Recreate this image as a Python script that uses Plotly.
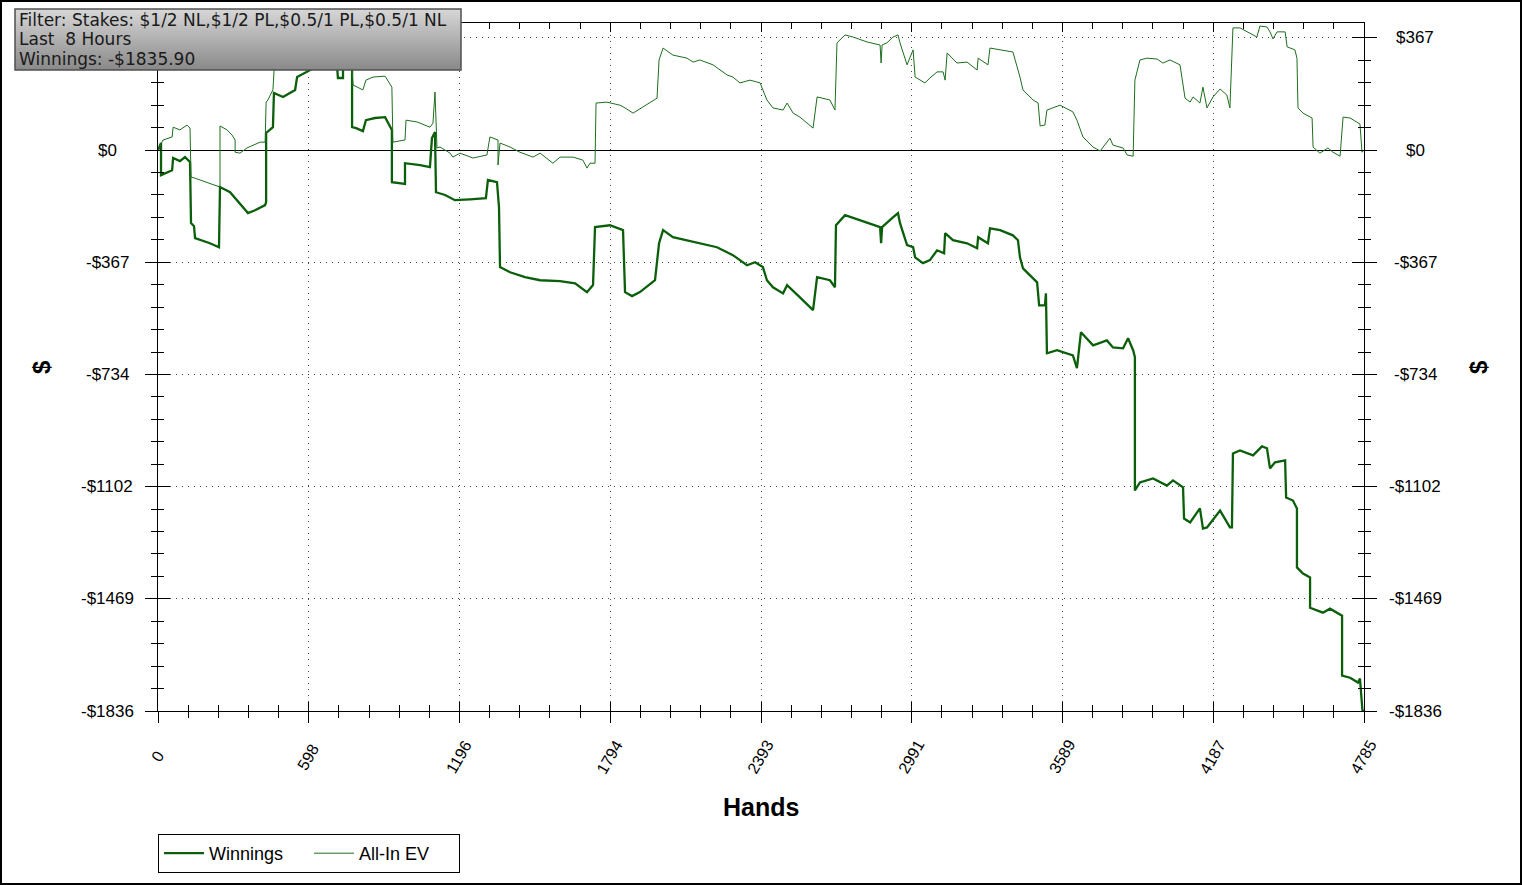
import plotly.graph_objects as go

# ---------------- data ----------------
win_hands = [0, 12, 12, 48, 56, 60, 87, 107, 127, 131, 143, 147, 206, 242, 246, 286, 325, 357, 385, 425,
             429, 429, 456, 460, 496, 544, 552, 603, 663, 710, 714, 734, 734, 770, 770, 786, 813, 825, 861, 901,
             920, 928, 928, 980, 980, 1040, 1079, 1087, 1099, 1103, 1139, 1178, 1238, 1301, 1309, 1345, 1353, 1357, 1397, 1456,
             1516, 1595, 1655, 1702, 1726, 1734, 1793, 1845, 1853, 1881, 1912, 1972, 1988, 2004, 2043, 2123, 2218, 2281, 2337, 2369,
             2400, 2416, 2440, 2480, 2496, 2547, 2599, 2615, 2666, 2686, 2690, 2726, 2813, 2865, 2869, 2873, 2916, 2936, 2944, 2972,
             2996, 3004, 3035, 3063, 3091, 3119, 3123, 3154, 3210, 3250, 3254, 3293, 3301, 3341, 3392, 3412, 3420, 3432, 3488, 3496,
             3519, 3523, 3527, 3567, 3630, 3646, 3662, 3710, 3765, 3789, 3829, 3849, 3869, 3876, 3876, 3896, 3948, 4003, 4027, 4067,
             4071, 4095, 4134, 4146, 4162, 4214, 4253, 4261, 4265, 4293, 4345, 4380, 4400, 4412, 4432, 4472, 4476, 4503, 4519, 4519,
             4543, 4571, 4571, 4622, 4650, 4698, 4698, 4730, 4761, 4769, 4779, 4785]
win_values = [0, 23, -82, -69, -66, -26, -36, -23, -39, -239, -249, -288, -305, -318, -121, -138, -174, -206, -197, -180,
              -170, 56, 75, 187, 174, 197, 239, 262, 288, 279, 236, 236, 282, 288, 75, 72, 62, 98, 105, 108,
              75, 66, -105, -111, -43, -49, -56, 39, 59, -138, -147, -164, -161, -157, -98, -105, -187, -383, -400, -416,
              -426, -429, -436, -465, -442, -252, -246, -262, -465, -478, -465, -426, -305, -262, -285, -301, -318, -344, -377, -367,
              -383, -426, -449, -469, -442, -482, -524, -416, -426, -449, -246, -213, -236, -252, -305, -252, -220, -206, -239, -311,
              -318, -351, -370, -360, -328, -338, -272, -295, -305, -321, -285, -305, -256, -262, -279, -295, -351, -387, -433, -508,
              -508, -469, -665, -655, -672, -714, -596, -639, -623, -646, -649, -616, -655, -678, -1114, -1088, -1075, -1098, -1081, -1104,
              -1206, -1219, -1173, -1239, -1235, -1180, -1235, -1235, -993, -983, -999, -970, -976, -1042, -1022, -1016, -1137, -1147, -1173, -1366,
              -1386, -1399, -1498, -1514, -1501, -1524, -1720, -1727, -1743, -1730, -1836, -1835.90]

ev_hands = [0, 12, 20, 56, 60, 87, 115, 127, 131, 147, 194, 246, 246, 274, 294, 306, 306, 325, 353, 377,
            405, 425, 429, 436, 456, 464, 563, 663, 742, 770, 774, 813, 825, 853, 901, 928, 932, 980, 984, 1028,
            1079, 1091, 1099, 1107, 1119, 1159, 1170, 1198, 1250, 1305, 1317, 1329, 1349, 1349, 1357, 1397, 1436, 1488, 1516, 1567,
            1595, 1647, 1686, 1702, 1714, 1734, 1738, 1781, 1833, 1853, 1885, 1924, 1980, 1988, 2004, 2043, 2099, 2123, 2150, 2202,
            2258, 2281, 2309, 2349, 2389, 2400, 2416, 2440, 2480, 2496, 2520, 2547, 2599, 2615, 2666, 2686, 2694, 2726, 2758, 2813,
            2865, 2869, 2873, 2892, 2916, 2936, 2944, 2972, 2996, 3004, 3043, 3063, 3091, 3115, 3123, 3131, 3170, 3210, 3250, 3254,
            3293, 3301, 3341, 3392, 3420, 3432, 3472, 3492, 3500, 3519, 3527, 3579, 3630, 3646, 3670, 3710, 3738, 3777, 3789, 3829,
            3845, 3869, 3876, 3896, 3924, 3964, 3987, 4015, 4055, 4075, 4095, 4107, 4134, 4146, 4162, 4186, 4214, 4241, 4253, 4265,
            4293, 4321, 4360, 4372, 4400, 4412, 4424, 4440, 4472, 4480, 4511, 4519, 4523, 4543, 4579, 4583, 4610, 4642, 4662, 4690,
            4702, 4730, 4769, 4777, 4785]
ev_values = [0, 23, 33, 43, 75, 66, 82, 72, -88, -92, -105, -121, 79, 66, 49, 33, -7, -10, 7, 16,
             26, 26, 157, 164, 197, 311, 328, 344, 328, 262, 213, 197, 229, 239, 242, 206, 26, 33, 98, 92,
             75, 88, 190, 7, 10, -10, -23, -10, -26, -16, 43, 39, 33, -49, 23, 10, -7, -23, -10, -43,
             -23, -23, -33, -59, -43, -43, 154, 157, 147, 138, 121, 141, 170, 295, 334, 311, 301, 288, 295, 279,
             246, 239, 220, 229, 220, 197, 164, 138, 131, 154, 121, 108, 72, 174, 164, 131, 351, 377, 370, 354,
             344, 285, 344, 351, 370, 377, 351, 279, 328, 239, 220, 236, 256, 256, 229, 318, 285, 288, 262, 301,
             279, 334, 328, 321, 239, 197, 164, 154, 79, 82, 131, 147, 125, 98, 43, 10, -3, 39, 16, 7,
             -16, -20, 229, 295, 301, 298, 285, 295, 279, 170, 157, 174, 154, 206, 138, 174, 200, 180, 138, 400,
             400, 387, 370, 406, 403, 387, 364, 387, 387, 338, 328, 301, 138, 121, 105, 10, -10, 7, -7, -20,
             108, 105, 85, -7, 0]

x_tick_vals = [0, 598.125, 1196.25, 1794.375, 2392.5, 2990.625, 3588.75, 4186.875, 4785]
x_tick_text = ["0", "598", "1196", "1794", "2393", "2991", "3589", "4187", "4785"]
y_tick_vals = [-1836.0, -1468.8, -1101.6, -734.4, -367.2, 0.0, 367.2]
y_tick_text = ["-$1836", "-$1469", "-$1102", "-$734", "-$367", "$0", "$367"]

info_lines = ["Filter: Stakes: $1/2 NL,$1/2 PL,$0.5/1 PL,$0.5/1 NL", "Last  8 Hours", "Winnings: -$1835.90"]

# ---------------- layout geometry ----------------
W, H = 1522, 885
ML, MR, MT, MB = 158, 158, 23, 174
PW, PH = W - ML - MR, H - MT - MB


def px_x(px):
    return (px - ML) / PW


def px_y(py):
    return (H - MB - py) / PH


X_RANGE = [0, 4785]
Y_RANGE = [-1836, 416]
FONT = "Liberation Sans, Arial, sans-serif"
BOXFONT = "DejaVu Sans, Verdana, sans-serif"
WIN_COLOR = "#0b5f0b"
EV_COLOR = "#1d6e1d"

fig = go.Figure()
fig.add_trace(go.Scatter(x=win_hands, y=win_values, mode="lines", name="Winnings",
                         line=dict(color=WIN_COLOR, width=2.3)))
fig.add_trace(go.Scatter(x=ev_hands, y=ev_values, mode="lines", name="All-In EV",
                         line=dict(color=EV_COLOR, width=1)))
# empty trace to host the overlay axes (inside ticks)
fig.add_trace(go.Scatter(x=[None], y=[None], xaxis="x2", yaxis="y2", showlegend=False,
                         hoverinfo="skip", mode="lines"))

grid_dash = "1px,5px"
fig.update_layout(
    width=W, height=H,
    margin=dict(l=ML, r=MR, t=MT, b=MB, pad=0),
    paper_bgcolor="white", plot_bgcolor="white",
    font=dict(family=FONT, size=17, color="black"),
    showlegend=True,
    legend=dict(orientation="h", x=0, xanchor="left", y=px_y(834), yanchor="top",
                bordercolor="black", borderwidth=1, bgcolor="white",
                font=dict(family=FONT, size=18, color="black"),
                entrywidth=95, entrywidthmode="pixels", itemwidth=40, tracegroupgap=0),
    xaxis=dict(range=X_RANGE, tickmode="array", tickvals=x_tick_vals, showticklabels=False,
               ticks="outside", ticklen=11, tickwidth=1, tickcolor="black",
               minor=dict(ticks="outside", ticklen=6, tickcolor="black", tickwidth=1,
                          tickmode="linear", tick0=0, dtick=4785 / 40, showgrid=False),
               showline=True, linecolor="black", linewidth=1, mirror=True,
               showgrid=True, gridcolor="#444", gridwidth=1, griddash=grid_dash,
               zeroline=False, fixedrange=True),
    xaxis2=dict(range=X_RANGE, overlaying="x", anchor="y", side="bottom",
                tickmode="array", tickvals=x_tick_vals, ticks="inside", ticklen=9, tickcolor="black",
                minor=dict(ticks="inside", ticklen=6, tickcolor="black", tickmode="linear",
                           tick0=0, dtick=4785 / 40, showgrid=False),
                mirror="ticks", showline=False, showgrid=False, zeroline=False, showticklabels=False),
    yaxis=dict(range=Y_RANGE, tickmode="array", tickvals=y_tick_vals, ticks="outside", ticklen=12,
               tickcolor="black", tickwidth=1,
               minor=dict(ticks="outside", ticklen=6, tickcolor="black", tickwidth=1,
                          tickmode="linear", tick0=0, dtick=73.44, showgrid=False),
               showline=True, linecolor="black", linewidth=1, mirror="ticks",
               showgrid=True, gridcolor="#444", gridwidth=1, griddash=grid_dash,
               zeroline=True, zerolinecolor="black", zerolinewidth=1,
               showticklabels=False, fixedrange=True),
    yaxis2=dict(range=Y_RANGE, overlaying="y", anchor="x", side="left",
                tickmode="array", tickvals=y_tick_vals, ticks="inside", ticklen=12, tickcolor="black",
                minor=dict(ticks="inside", ticklen=6, tickcolor="black", tickmode="linear",
                           tick0=0, dtick=73.44, showgrid=False),
                mirror="ticks", showline=False, showgrid=False, zeroline=False, showticklabels=False),
)

annotations = []
# y tick labels, centred text on both sides (the left "$367" sits hidden under the info box)
for v, t in zip(y_tick_vals, y_tick_text):
    sides = [px_x(1415)] if v > 0 else [px_x(107), px_x(1415)]
    for xc in sides:
        annotations.append(dict(x=xc, xref="paper", y=v, yref="y", text=t, showarrow=False,
                                xanchor="center", yanchor="middle",
                                font=dict(family=FONT, size=17, color="black")))
# x tick labels, rotated and centred below the ticks
for v, t in zip(x_tick_vals, x_tick_text):
    annotations.append(dict(x=v, xref="x", y=px_y(757), yref="paper", text=t, showarrow=False,
                            textangle=-60, xanchor="center", yanchor="middle",
                            font=dict(family=FONT, size=16, color="black")))
# axis titles
annotations.append(dict(x=0.5, xref="paper", y=px_y(807), yref="paper", text="<b>Hands</b>",
                        showarrow=False, xanchor="center", yanchor="middle",
                        font=dict(family=FONT, size=25, color="black")))
for xc in (px_x(41), px_x(1478)):
    annotations.append(dict(x=xc, xref="paper", y=0.5, yref="paper", text="<b>$</b>", showarrow=False,
                            textangle=-90, xanchor="center", yanchor="middle",
                            font=dict(family=FONT, size=24, color="black")))
# info box text, one line each
for line, yc in zip(info_lines, (19.5, 39, 58.5)):
    annotations.append(dict(x=px_x(17), xref="paper", y=px_y(yc), yref="paper",
                            text=line, showarrow=False, align="left",
                            xanchor="left", yanchor="middle",
                            font=dict(family=BOXFONT, size=17, color="#1a1a1a")))
fig.update_layout(annotations=annotations)

shapes = []
# gradient-filled info box (overlapping strips, each reaching the bottom edge)
top_px, bot_px, left_px, right_px = 9, 70, 15, 461
n = 30
c_top, c_bot = (214, 214, 214), (138, 138, 138)
for i in range(n):
    f = i / (n - 1)
    c = tuple(int(round(c_top[k] + (c_bot[k] - c_top[k]) * f)) for k in range(3))
    y0 = top_px + (bot_px - top_px) * i / n
    shapes.append(dict(type="rect", xref="paper", yref="paper", x0=px_x(left_px), x1=px_x(right_px),
                       y0=px_y(bot_px), y1=px_y(y0), line=dict(width=0),
                       fillcolor="rgb(%d,%d,%d)" % c, layer="above"))
shapes.append(dict(type="rect", xref="paper", yref="paper", x0=px_x(left_px), x1=px_x(right_px),
                   y0=px_y(bot_px), y1=px_y(top_px), line=dict(color="#505050", width=1.5),
                   fillcolor="rgba(0,0,0,0)", layer="above"))
# outer frame
shapes.append(dict(type="rect", xref="paper", yref="paper", x0=px_x(1), x1=px_x(W - 1),
                   y0=px_y(H - 1), y1=px_y(1), line=dict(color="black", width=2),
                   fillcolor="rgba(0,0,0,0)", layer="above"))
fig.update_layout(shapes=shapes)

fig.write_html("out.html", config={"displayModeBar": False},
               post_script="document.body.style.margin='0';")
